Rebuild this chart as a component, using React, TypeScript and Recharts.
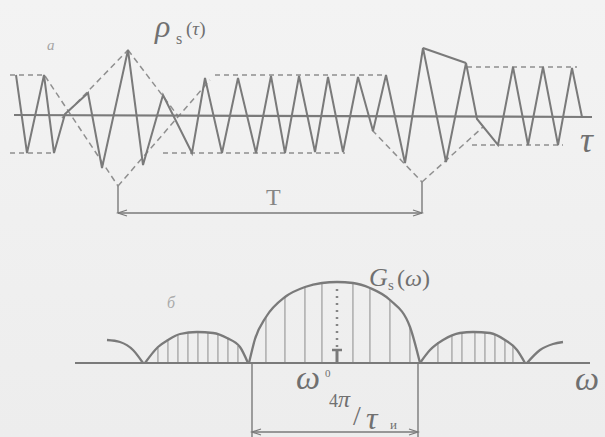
import { Bar, ComposedChart, Line, XAxis, YAxis } from 'recharts'

// ---- panel a: signal rho_s(tau); x = tau position, y = value above the tau axis
const signalTau = [16, 27, 44, 54, 65, 88, 102, 128, 143, 163, 192, 205, 222, 238, 256, 271, 285, 299, 315, 328, 343, 358, 373, 386, 405, 423, 446, 466, 477, 498, 513, 528, 543, 558, 572, 582]
const signalValue = [40, -38, 40, -38, 1, 22, -53, 65, -50, 20, -38, 37, -38, 37, -38, 39, -38, 39, -37, 38, -37, 38, -16, 40, -48, 67, -47, 52, -4, -30, 48, -30, 48, -30, 47, -2]

const tauAxis = [[14, 0], [592, -2]]
const peakChord = [[423, 67], [466, 52]]

// dashed envelopes (pairs of points)
const envelopes = [
  [[45, 39], [118, -71]],
  [[118, -71], [210, 35]],
  [[62, -3], [128, 65]],
  [[128, 65], [178, -1]],
  [[372, -15], [422, -67]],
  [[422, -67], [483, -12]],
]

// dashed amplitude levels
const levels = [
  [[10, 40], [45, 40]],
  [[10, -38], [55, -38]],
  [[215, 40], [386, 40]],
  [[163, -38], [345, -38]],
  [[467, 48], [577, 48]],
  [[472, -30], [563, -30]],
]

// period T marker
const periodStems = [
  [[118, -71], [118, -98]],
  [[422, -67], [422, -98]],
]
const periodLine = [[118, -98], [422, -98]]

// ---- panel б: spectrum G_s(omega); x = omega position, y = height above the axis
const omegaAxis = [[75, 0], [590, 0]]
const lobeLeftEdge = [[107, 23], [120, 21], [133, 13], [143, 0]]
const lobeLeft = [[145, 0], [158, 16], [168, 23], [180, 29], [197, 31], [213, 30], [227, 25], [240, 16], [248, 0]]
const lobeMain = [[249, 0], [255, 24], [266, 46], [285, 66], [305, 76], [322, 80], [337, 81], [353, 80], [370, 75], [390, 63], [410, 36], [420, 0]]
const lobeRight = [[420, 0], [430, 13], [443, 23], [460, 30], [473, 31], [490, 30], [505, 23], [517, 13], [525, 0]]
const lobeRightEdge = [[527, 0], [540, 13], [553, 19], [563, 21]]

const lineOmega = [158, 168, 178, 188, 198, 208, 218, 228, 238, 266, 285, 305, 322, 353, 370, 390, 410, 438, 452, 462, 475, 485, 495, 505, 513]
const lineHeight = [15, 23, 28, 31, 31, 31, 28, 24, 17, 46, 66, 76, 80, 80, 75, 63, 36, 21, 27, 30, 31, 31, 28, 23, 17]

const centerLine = [[337, 16], [337, 78]]
const centerMark = [[332, 13], [342, 13]]
const centerFoot = [[337, 13], [337, 0]]

const bandStems = [
  [[252, 0], [252, -74]],
  [[418, 0], [418, -74]],
]
const bandLine = [[252, -69], [418, -69]]

const pts = (p: number[][]) => p.map(([x, y]) => ({ x, y }))
const signalData = signalTau.map((x, i) => ({ x, y: signalValue[i] }))
const spectralLines = lineOmega.map((x, i) => ({ x, h: lineHeight[i] }))

const INK = '#7a7a7a'
const DASH = '#8f8f8f'

const arrowDot = (props: any) => {
  const { cx, cy, index } = props
  const d = index === 0 ? 1 : -1
  return (
    <path
      key={index}
      d={`M${cx + d * 9},${cy - 3} L${cx},${cy} L${cx + d * 9},${cy + 3}`}
      fill="none"
      stroke={INK}
      strokeWidth={1.3}
    />
  )
}

function seg(key: string, p: number[][], stroke: string, width: number, dash?: string, dot: any = false) {
  return (
    <Line
      key={key}
      data={pts(p)}
      dataKey="y"
      type="linear"
      stroke={stroke}
      strokeWidth={width}
      strokeDasharray={dash}
      dot={dot}
      activeDot={false}
      isAnimationActive={false}
    />
  )
}

function lobe(key: string, p: number[][]) {
  return (
    <Line
      key={key}
      data={pts(p)}
      dataKey="y"
      type="monotone"
      stroke={INK}
      strokeWidth={2.3}
      dot={false}
      activeDot={false}
      isAnimationActive={false}
    />
  )
}

export default function App() {
  const txt = { fill: '#707070', fontFamily: "'Liberation Serif', 'DejaVu Serif', serif" }
  return (
    <div style={{ position: 'relative', width: 605, height: 437, background: 'linear-gradient(#f3f3f3, #ededed)' }}>
      <style>{'body{margin:0}'}</style>
      <ComposedChart width={605} height={230} margin={{ top: 0, right: 0, bottom: 0, left: 0 }}>
        <XAxis type="number" dataKey="x" domain={[0, 605]} hide allowDataOverflow />
        <YAxis type="number" domain={[-115, 115]} hide allowDataOverflow />
        {levels.map((s, i) => seg('lv' + i, s, DASH, 1.4, '5 4'))}
        {envelopes.map((s, i) => seg('en' + i, s, DASH, 1.5, '6 4'))}
        {seg('axis', tauAxis, INK, 2.2)}
        <Line
          data={signalData}
          dataKey="y"
          type="linear"
          stroke={INK}
          strokeWidth={2}
          dot={false}
          activeDot={false}
          isAnimationActive={false}
        />
        {seg('chord', peakChord, INK, 2)}
        {periodStems.map((s, i) => seg('ps' + i, s, INK, 1.4))}
        {seg('period', periodLine, INK, 1.6, undefined, arrowDot)}
      </ComposedChart>
      <div style={{ position: 'absolute', left: 0, top: 230 }}>
        <ComposedChart width={605} height={207} data={spectralLines} margin={{ top: 0, right: 0, bottom: 0, left: 0 }}>
          <XAxis type="number" dataKey="x" domain={[0, 605]} hide allowDataOverflow />
          <YAxis type="number" domain={[-74, 133]} hide allowDataOverflow />
          <Bar dataKey="h" barSize={2} fill="#808080" isAnimationActive={false} />
          {seg('center', centerLine, '#858585', 2.5, '2 5')}
          {seg('cmark', centerMark, INK, 2.5)}
          {seg('cfoot', centerFoot, INK, 3)}
          {lobe('l0', lobeLeftEdge)}
          {lobe('l1', lobeLeft)}
          {lobe('l2', lobeMain)}
          {lobe('l3', lobeRight)}
          {lobe('l4', lobeRightEdge)}
          {seg('oaxis', omegaAxis, INK, 2)}
          {bandStems.map((s, i) => seg('bs' + i, s, INK, 1.4))}
          {seg('band', bandLine, INK, 1.6, undefined, arrowDot)}
        </ComposedChart>
      </div>
      <svg width={605} height={437} style={{ position: 'absolute', left: 0, top: 0, pointerEvents: 'none' }}>
        <text x={47} y={50} fontSize={15} fontStyle="italic" {...txt} fill="#a5a5a5">a</text>
        <text x={155} y={37} fontSize={32} fontStyle="italic" {...txt}>ρ</text>
        <text x={176} y={44} fontSize={16} {...txt}>s</text>
        <text x={186} y={35} fontSize={19} {...txt}>(<tspan fontStyle="italic">τ</tspan>)</text>
        <text x={580} y={152} fontSize={36} fontStyle="italic" {...txt}>τ</text>
        <text x={266} y={205} fontSize={24} {...txt} fill="#858585">T</text>
        <text x={167} y={308} fontSize={16} fontStyle="italic" {...txt} fill="#aaaaaa">б</text>
        <text x={369} y={286} fontSize={26} fontStyle="italic" {...txt}>G</text>
        <text x={388} y={290} fontSize={15} {...txt}>s</text>
        <text x={397} y={286} fontSize={24} {...txt}>(<tspan fontStyle="italic">ω</tspan>)</text>
        <text x={575} y={390} fontSize={34} fontStyle="italic" {...txt}>ω</text>
        <text x={296} y={389} fontSize={34} fontStyle="italic" {...txt}>ω</text>
        <text x={325} y={377} fontSize={11} {...txt}>0</text>
        <text x={329} y={407} fontSize={18} {...txt}>4</text>
        <text x={338} y={407} fontSize={24} fontStyle="italic" {...txt}>π</text>
        <text x={353} y={425} fontSize={28} {...txt}>/</text>
        <text x={366} y={429} fontSize={32} fontStyle="italic" {...txt}>τ</text>
        <text x={390} y={429} fontSize={13} {...txt}>и</text>
      </svg>
    </div>
  )
}
